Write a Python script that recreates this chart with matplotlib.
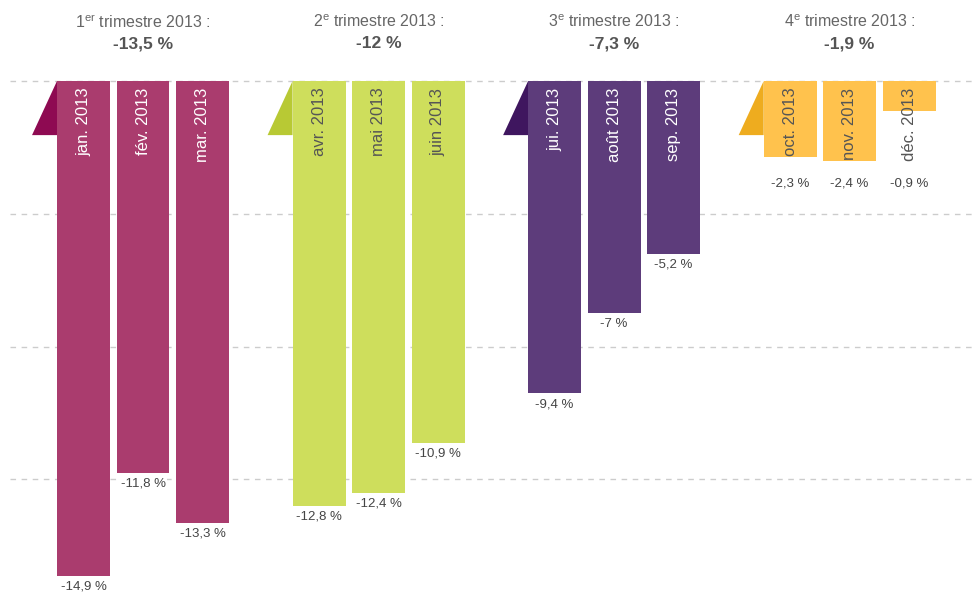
import numpy as np
import matplotlib as mpl
mpl.use("Agg")
import matplotlib.pyplot as plt
from matplotlib.patches import Polygon

plt.rcParams['font.family'] = ['Liberation Sans', 'DejaVu Sans']
plt.rcParams['mathtext.fontset'] = 'custom'
plt.rcParams['mathtext.rm'] = 'Liberation Sans'

# données
quarters = ["1$^{\\rm er}$ trimestre 2013 :", "2$^{\\rm e}$ trimestre 2013 :",
            "3$^{\\rm e}$ trimestre 2013 :", "4$^{\\rm e}$ trimestre 2013 :"]
quarter_values = ["-13,5 %", "-12 %", "-7,3 %", "-1,9 %"]
months = [["jan. 2013", "fév. 2013", "mar. 2013"],
          ["avr. 2013", "mai 2013", "juin 2013"],
          ["jui. 2013", "août 2013", "sep. 2013"],
          ["oct. 2013", "nov. 2013", "déc. 2013"]]
values = [[-14.9, -11.8, -13.3],
          [-12.8, -12.4, -10.9],
          [-9.4, -7.0, -5.2],
          [-2.3, -2.4, -0.9]]
bar_colors = ["#AA3C6E", "#CEDE5C", "#5D3C7B", "#FFC24D"]
flag_colors = ["#8E0A52", "#B8C934", "#3F165F", "#EEAC1F"]
label_colors = ["white", "#555555", "white", "#555555"]

# mise en page
group_step = 3.958
width = 0.89
px_y = 33.2  # pixels par %
fig = plt.figure(figsize=(9.75, 6.06), dpi=100)
ax = fig.add_axes([0, 0, 1, 1])
ax.set_xlim(-1.403, 14.98)
ax.set_ylim(-525 / px_y, 81 / px_y)
ax.axis('off')

# lignes de repère
for g in [0, -4, -8, -12]:
    ax.plot([-1.23, 14.98], [g, g], color="#cccccc", lw=1.0,
            dashes=(4, 4), zorder=0)

for i in range(4):
    xs = i * group_step + np.arange(3)
    ax.bar(xs, values[i], width=width, color=bar_colors[i], zorder=2)
    # petit drapeau à gauche
    left = xs[0] - width / 2
    tri = Polygon([[left, 0], [left - 0.42, -1.63], [left, -1.63]],
                  closed=True, color=flag_colors[i], zorder=1, lw=0)
    ax.add_patch(tri)
    for x, v, m in zip(xs, values[i], months[i]):
        ax.text(x, -0.2, m, rotation=90, ha='center', va='top',
                fontsize=12, color=label_colors[i], zorder=3)
        lab_y = min(v, -2.75) - 0.15
        ax.text(x, lab_y, ("%g %%" % v).replace('.', ','),
                ha='center', va='top', fontsize=9.5, color="#444444",
                zorder=3, bbox=dict(boxstyle='square,pad=0.1', fc='white',
                                    ec='none'))
    ax.text(xs[1], 1.78, quarters[i], ha='center', va='center',
            fontsize=11.5, color="#666666")
    ax.text(xs[1], 1.12, quarter_values[i], ha='center', va='center',
            fontsize=12.5, color="#555555", fontweight='bold')

fig.savefig("out.png", dpi=100)
